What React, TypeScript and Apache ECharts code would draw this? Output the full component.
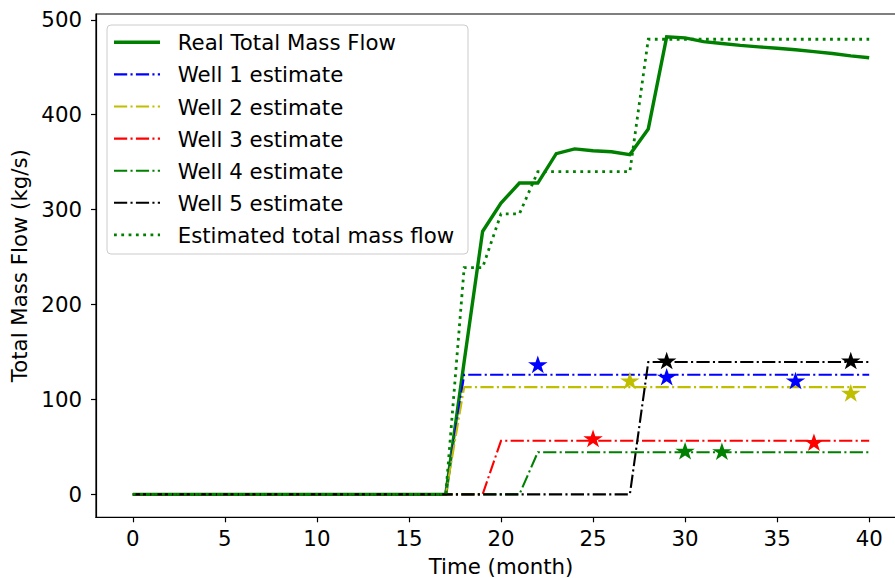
import React, { useEffect, useRef } from "react";
import * as echarts from "echarts";

const xTicks = [0, 5, 10, 15, 20, 25, 30, 35, 40];
const yTicks = [0, 100, 200, 300, 400, 500];

const realMonths = [
  0, 1, 2, 3, 4, 5, 6, 7, 8, 9, 10, 11, 12, 13, 14, 15, 16, 17, 18, 19, 20,
  21, 22, 23, 24, 25, 26, 27, 28, 29, 30, 31, 32, 33, 34, 35, 36, 37, 38, 39, 40,
];
const realTotal = [
  0, 0, 0, 0, 0, 0, 0, 0, 0, 0, 0, 0, 0, 0, 0, 0, 0, 0, 140, 277, 307, 328, 328,
  359, 364, 362, 361, 358, 385, 482, 481, 477, 475, 473, 471.5, 470, 468.5, 466.5,
  464.5, 462, 460,
];

const well1Months = [0, 17, 18, 40];
const well1Values = [0, 0, 126, 126];
const well2Months = [0, 17, 18, 40];
const well2Values = [0, 0, 113, 113];
const well3Months = [0, 19, 20, 40];
const well3Values = [0, 0, 56.5, 56.5];
const well4Months = [0, 21, 22, 40];
const well4Values = [0, 0, 44.5, 44.5];
const well5Months = [0, 27, 28, 40];
const well5Values = [0, 0, 139.5, 139.5];

const estMonths = [0, 17, 18, 19, 20, 21, 22, 27, 28, 40];
const estValues = [0, 0, 239, 239, 295.5, 295.5, 340, 340, 479.5, 479.5];

const star1Months = [22, 29, 36];
const star1Values = [137, 124, 120];
const star2Months = [27, 39];
const star2Values = [120, 107];
const star3Months = [25, 37];
const star3Values = [59, 55];
const star4Months = [30, 32];
const star4Values = [46, 45.5];
const star5Months = [29, 39];
const star5Values = [141, 141];

const legendNames = [
  "Real Total Mass Flow",
  "Well 1 estimate",
  "Well 2 estimate",
  "Well 3 estimate",
  "Well 4 estimate",
  "Well 5 estimate",
  "Estimated total mass flow",
];

const C_BLUE = "#0000ff";
const C_YEL = "#bfbf00";
const C_RED = "#ff0000";
const C_GREEN = "#008000";
const C_BLACK = "#000000";

const DASHDOT = [13.2, 3.3, 2.1, 3.3];
const DOTTED = [2.8, 4.5];
const FONT = "DejaVu Sans";
const FS = 21.3;

const STAR =
  "path://M50,0 L61.2,34.5 L97.6,34.5 L68.2,55.9 L79.4,90.5 L50,69.1 L20.6,90.5 L31.8,55.9 L2.4,34.5 L38.8,34.5 Z";

const zip = (xs: number[], ys: number[]) => xs.map((x, i) => [x, ys[i]]);

export default function App() {
  const ref = useRef<HTMLDivElement>(null);
  useEffect(() => {
    if (!ref.current) return;
    const chart = echarts.init(ref.current, undefined, { renderer: "svg" });

    const lineSeries = (name: string, xs: number[], ys: number[], color: string, width: number, dash: any, z: number) => ({
      name,
      type: "line",
      data: zip(xs, ys),
      showSymbol: false,
      symbol: "none",
      lineStyle: { color, width, type: dash, cap: "butt", join: "miter" },
      itemStyle: { color },
      z,
      silent: true,
    });
    const starSeries = (xs: number[], ys: number[], color: string) => ({
      type: "scatter",
      data: zip(xs, ys),
      symbol: STAR,
      symbolKeepAspect: true,
      symbolSize: [19.5, 18.5],
      itemStyle: { color, opacity: 1 },
      z: 10,
      silent: true,
    });

    const legendStyles = [
      { color: C_GREEN, width: 3.4, dash: null },
      { color: C_BLUE, width: 2.1, dash: DASHDOT },
      { color: C_YEL, width: 2.1, dash: DASHDOT },
      { color: C_RED, width: 2.1, dash: DASHDOT },
      { color: C_GREEN, width: 2.1, dash: DASHDOT },
      { color: C_BLACK, width: 2.1, dash: DASHDOT },
      { color: C_GREEN, width: 2.8, dash: DOTTED },
    ];
    const legendEls: any[] = [
      {
        type: "rect",
        shape: { x: 107, y: 25, width: 361, height: 229, r: 4 },
        style: { fill: "rgba(255,255,255,0.8)", stroke: "#cccccc", lineWidth: 1 },
        z: 100,
      },
    ];
    legendNames.forEach((n, i) => {
      const y = 42.3 + i * 32.1;
      const st = legendStyles[i];
      legendEls.push({
        type: "line",
        shape: { x1: 114, y1: y, x2: 160, y2: y },
        style: { stroke: st.color, lineWidth: st.width, lineDash: st.dash || undefined, lineCap: "butt" },
        z: 101,
      });
      legendEls.push({
        type: "text",
        x: 177.7,
        y: y + 0.5,
        style: { text: n, fontSize: FS, fontFamily: FONT, fill: "#000", verticalAlign: "middle", align: "left" },
        z: 101,
      });
    });

    const axisCommon = {
      axisLine: { show: true, onZero: false, lineStyle: { color: "#000", width: 1.2 } },
      axisTick: { show: true, length: 5, lineStyle: { color: "#000", width: 1.2 } },
      splitLine: { show: false },
      nameTextStyle: { fontSize: FS, fontFamily: FONT, color: "#000" },
    };

    chart.setOption({
      animation: false,
      backgroundColor: "#ffffff",
      textStyle: { fontFamily: FONT },
      grid: {
        left: 96,
        top: 14,
        width: 810,
        height: 503.3,
        show: true,
        borderColor: "#000",
        borderWidth: 1.2,
        backgroundColor: "transparent",
        containLabel: false,
        outerBoundsMode: "none",
      },
      xAxis: {
        type: "value",
        min: -2,
        max: 42,
        ...axisCommon,
        axisTick: { ...axisCommon.axisTick, customValues: xTicks },
        axisLabel: {
          customValues: xTicks,
          fontSize: FS,
          fontFamily: FONT,
          color: "#000",
          margin: 11,
        },
        name: "Time (month)",
        nameLocation: "middle",
        nameGap: 39,
      },
      yAxis: {
        type: "value",
        min: -24.1,
        max: 506.1,
        ...axisCommon,
        axisTick: { ...axisCommon.axisTick, customValues: yTicks },
        axisLabel: {
          customValues: yTicks,
          fontSize: FS,
          fontFamily: FONT,
          color: "#000",
          margin: 14,
        },
        name: "Total Mass Flow (kg/s)",
        nameLocation: "middle",
        nameRotate: 90,
        nameGap: 60,
      },
      graphic: legendEls,
      series: [
        lineSeries(legendNames[0], realMonths, realTotal, C_GREEN, 3.4, "solid", 2),
        lineSeries(legendNames[1], well1Months, well1Values, C_BLUE, 2.1, DASHDOT, 3),
        lineSeries(legendNames[2], well2Months, well2Values, C_YEL, 2.1, DASHDOT, 3),
        lineSeries(legendNames[3], well3Months, well3Values, C_RED, 2.1, DASHDOT, 3),
        lineSeries(legendNames[4], well4Months, well4Values, C_GREEN, 2.1, DASHDOT, 3),
        lineSeries(legendNames[5], well5Months, well5Values, C_BLACK, 2.1, DASHDOT, 3),
        lineSeries(legendNames[6], estMonths, estValues, C_GREEN, 2.8, DOTTED, 4),
        starSeries(star1Months, star1Values, C_BLUE),
        starSeries(star2Months, star2Values, C_YEL),
        starSeries(star3Months, star3Values, C_RED),
        starSeries(star4Months, star4Values, C_GREEN),
        starSeries(star5Months, star5Values, C_BLACK),
      ],
    });
    return () => chart.dispose();
  }, []);

  return (
    <div style={{ position: "fixed", left: 0, top: 0, width: 895, height: 578, overflow: "hidden", background: "#fff" }}>
      <div ref={ref} style={{ width: 930, height: 578 }} />
    </div>
  );
}
